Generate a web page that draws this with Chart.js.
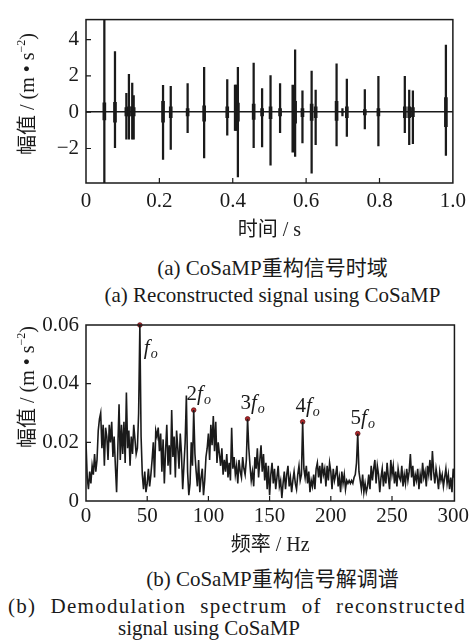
<!DOCTYPE html>
<html>
<head>
<meta charset="utf-8">
<script src="https://cdn.jsdelivr.net/npm/chart.js@4.4.0/dist/chart.umd.min.js"></script>
<style>
  html, body { margin: 0; padding: 0; background: #fff; }
  body {
    width: 472px; height: 640px; position: relative; overflow: hidden;
    font-family: 'Liberation Serif', 'Noto Sans CJK SC', serif; color: #1a1a1a;
  }
  .box { position: absolute; left: 0; width: 472px; }
  .cap { position: absolute; left: 0; width: 545px; text-align: center;
         font-size: 21px; line-height: 24px; white-space: nowrap; }
  .ytitle { position: absolute; left: 27px; transform: translate(-50%, -50%) rotate(-90deg);
            font-size: 20px; line-height: 24px; white-space: nowrap; }
  .ytitle sup { font-size: 12px; vertical-align: 9px; line-height: 0; }
</style>
</head>
<body>
<div class="box" style="top:0;height:244px"><canvas id="timeChart"></canvas></div>
<div class="ytitle" style="top:94px">幅值 / (m • s<sup>−2</sup>)</div>
<div class="cap" style="top:256px">(a) CoSaMP重构信号时域</div>
<div class="cap" style="top:283px">(a) Reconstructed signal using CoSaMP</div>
<div class="box" style="top:300px;height:263px"><canvas id="specChart"></canvas></div>
<div class="ytitle" style="top:387px">幅值 / (m • s<sup>−2</sup>)</div>
<div class="cap" style="top:567px">(b) CoSaMP重构信号解调谱</div>
<div class="cap" style="top:594px;left:8px;width:458px;text-align:justify;text-align-last:justify;letter-spacing:1.3px">(b) Demodulation spectrum of reconstructed</div>
<div class="cap" style="top:616px;left:118px;width:auto;text-align:left">signal using CoSaMP</div>

<script>
// ======================================
// Data - (a) time signal bursts
// ======================================
const burstTime = [0.050, 0.079, 0.110, 0.117, 0.126, 0.130, 0.210, 0.231, 0.277, 0.322,
                   0.385, 0.408, 0.414, 0.457, 0.480, 0.503, 0.529, 0.565, 0.570, 0.590,
                   0.615, 0.626, 0.683, 0.699, 0.711, 0.760, 0.797, 0.869, 0.881, 0.891, 0.981];
const burstMax  = [6.00, 3.34, 1.04, 2.09, 1.60, 0.92, 1.48, 1.43, 1.57, 2.47,
                   1.79, 1.50, 2.47, 2.70, 1.30, 2.02, 1.57, 1.48, 3.43, 1.17,
                   2.26, 1.22, 2.66, 0.20, 1.83, 1.25, 1.97, 1.97, 1.22, 1.17, 3.70];
const burstMin  = [-5.00, -1.95, -1.48, -1.48, -1.48, -1.48, -2.60, -2.05, -1.13, -2.52,
                   -1.27, -1.00, -3.57, -1.95, -1.91, -2.92, -1.13, -2.17, -2.43, -1.69,
                   -3.36, -1.79, -1.86, -0.20, -1.34, -0.92, -1.86, -1.13, -1.79, -1.74, -2.38];
// dense part of each burst, near zero
const coreMax   = [0.52, 0.55, 0.25, 0.30, 0.30, 0.25, 0.60, 0.30, 0.20, 0.35,
                   0.30, 1.50, 0.50, 0.45, 0.20, 0.30, 0.20, 1.50, 0.60, 0.20,
                   0.45, 0.30, 0.60, 0.00, 0.30, 0.15, 0.20, 0.30, 0.30, 0.25, 0.80];
const coreMin   = [-0.43, -0.55, -0.20, -0.20, -0.20, -0.20, -0.55, -0.30, -0.20, -0.50,
                   -0.30, -1.00, -0.50, -0.40, -0.20, -0.35, -0.20, -2.20, -0.60, -0.25,
                   -0.45, -0.30, -0.45, 0.00, -0.30, -0.15, -0.20, -0.30, -0.30, -0.25, -0.80];
const timeTicks = [0, 0.2, 0.4, 0.6, 0.8, 1.0];
const ampTicks  = [-2, 0, 2, 4];

// ======================================
// Data - (b) demodulation spectrum, 1 Hz bins from 0 Hz
// ======================================
const spectrumAmp = [
  0.020, 0.008, 0.004, 0.010, 0.006, 0.012, 0.009, 0.016, 0.010, 0.014,
  0.024, 0.028, 0.030, 0.018, 0.026, 0.012, 0.025, 0.022, 0.014, 0.026,
  0.020, 0.027, 0.015, 0.022, 0.012, 0.003, 0.018, 0.033, 0.014, 0.026,
  0.016, 0.027, 0.013, 0.037, 0.018, 0.024, 0.012, 0.022, 0.016, 0.026,
  0.021, 0.016, 0.018, 0.030, 0.060, 0.022, 0.009, 0.004, 0.010, 0.003,
  0.006, 0.011, 0.005, 0.009, 0.014, 0.020, 0.008, 0.024, 0.022, 0.025,
  0.017, 0.023, 0.010, 0.021, 0.006, 0.017, 0.026, 0.012, 0.019, 0.009,
  0.031, 0.015, 0.022, 0.008, 0.024, 0.018, 0.011, 0.023, 0.016, 0.004,
  0.012, 0.020, 0.036, 0.010, 0.002, 0.006, 0.020, 0.012, 0.031, 0.016,
  0.010, 0.005, 0.014, 0.003, 0.008, 0.011, 0.002, 0.007, 0.015, 0.018,
  0.023, 0.014, 0.026, 0.019, 0.029, 0.017, 0.027, 0.013, 0.020, 0.016,
  0.012, 0.018, 0.009, 0.014, 0.010, 0.016, 0.008, 0.013, 0.007, 0.025,
  0.011, 0.015, 0.009, 0.012, 0.006, 0.014, 0.010, 0.008, 0.015, 0.011,
  0.009, 0.014, 0.028, 0.018, 0.012, 0.007, 0.010, 0.005, 0.015, 0.011,
  0.018, 0.008, 0.014, 0.019, 0.010, 0.016, 0.007, 0.013, 0.004, 0.012,
  0.002, 0.009, 0.013, 0.006, 0.011, 0.004, 0.008, 0.012, 0.005, 0.007,
  0.001, 0.006, 0.010, 0.004, 0.009, 0.012, 0.005, 0.008, 0.003, 0.007,
  0.010, 0.006, 0.004, 0.009, 0.012, 0.007, 0.009, 0.027, 0.011, 0.008,
  0.012, 0.006, 0.010, 0.003, 0.007, 0.005, 0.009, 0.004, 0.011, 0.013,
  0.008, 0.012, 0.006, 0.013, 0.009, 0.011, 0.005, 0.012, 0.007, 0.013,
  0.010, 0.004, 0.011, 0.007, 0.009, 0.012, 0.005, 0.008, 0.003, 0.010,
  0.006, 0.009, 0.004, 0.007, 0.006, 0.007, 0.006, 0.007, 0.006, 0.008,
  0.009, 0.013, 0.023, 0.010, 0.007, 0.004, 0.009, 0.003, 0.006, 0.003,
  0.005, 0.009, 0.004, 0.012, 0.007, 0.011, 0.014, 0.006, 0.012, 0.009,
  0.003, 0.008, 0.011, 0.005, 0.010, 0.006, 0.013, 0.008, 0.004, 0.014,
  0.009, 0.012, 0.006, 0.010, 0.005, 0.011, 0.008, 0.007, 0.012, 0.005,
  0.009, 0.006, 0.011, 0.007, 0.010, 0.016, 0.008, 0.012, 0.005, 0.009,
  0.007, 0.011, 0.004, 0.009, 0.006, 0.013, 0.008, 0.010, 0.005, 0.012,
  0.009, 0.014, 0.007, 0.017, 0.010, 0.006, 0.011, 0.008, 0.004, 0.010,
  0.007, 0.009, 0.005, 0.008, 0.011, 0.006, 0.009, 0.004, 0.008, 0.003,
  0.011, 0.008
];
const harmonicBin   = [44, 88, 132, 177, 222];
const harmonicOrder = [1, 2, 3, 4, 5];
const freqTicks = [0, 50, 100, 150, 200, 250, 300];
const specTicks = [0, 0.02, 0.04, 0.06];

const SERIF = "'Liberation Serif', 'Noto Sans CJK SC', serif";
const INK = '#1a1a1a';

// ======================================
// Plugin: box frame + inward ticks
// ======================================
const frameTicks = {
    id: 'frameTicks',
    afterDatasetsDraw(chart) {
        const { ctx, chartArea: a, scales } = chart;
        ctx.save();
        ctx.strokeStyle = INK;
        ctx.lineWidth = 1.5;
        ctx.strokeRect(a.left, a.top, a.right - a.left, a.bottom - a.top);
        ctx.lineWidth = 1.2;
        ctx.beginPath();
        scales.x.ticks.forEach(t => {
            const px = scales.x.getPixelForValue(t.value);
            if (px <= a.left + 2 || px >= a.right - 2) return;
            ctx.moveTo(px, a.bottom);
            ctx.lineTo(px, a.bottom - 5);
        });
        scales.y.ticks.forEach(t => {
            const py = scales.y.getPixelForValue(t.value);
            if (py <= a.top + 2 || py >= a.bottom - 2) return;
            ctx.moveTo(a.left, py);
            ctx.lineTo(a.left + 5, py);
        });
        ctx.stroke();
        ctx.restore();
    }
};

// ======================================
// Plugin: harmonic labels (f_o, 2f_o ...)
// ======================================
const harmonicLabels = {
    id: 'harmonicLabels',
    afterDatasetsDraw(chart) {
        const ctx = chart.ctx;
        const meta = chart.getDatasetMeta(1);
        ctx.save();
        ctx.fillStyle = INK;
        ctx.textBaseline = 'alphabetic';
        meta.data.forEach((pt, i) => {
            const n = harmonicOrder[i];
            const lead = n > 1 ? String(n) : '';
            const big = "21px 'Liberation Serif', serif";
            const bigI = "italic 21px 'Liberation Serif', serif";
            const small = "italic 14px 'Liberation Serif', serif";
            ctx.font = big;  const w1 = ctx.measureText(lead).width;
            ctx.font = bigI; const w2 = ctx.measureText('f').width + 1;
            ctx.font = small; const w3 = ctx.measureText('o').width;
            let x, y;
            if (n === 1) { x = pt.x + 4; y = pt.y + 29; }
            else { x = pt.x + 5 - (w1 + w2 + w3) / 2; y = pt.y - 10; }
            ctx.font = big;  ctx.fillText(lead, x, y);
            ctx.font = bigI; ctx.fillText('f', x + w1, y);
            ctx.font = small; ctx.fillText('o', x + w1 + w2, y + 4);
        });
        ctx.restore();
    }
};

function fixedTicks(list) {
    return axis => { axis.ticks = list.map(v => ({ value: v })); };
}

function baseOptions() {
    return {
        responsive: true,
        maintainAspectRatio: false,
        animation: false,
        events: [],
        plugins: { legend: { display: false }, tooltip: { enabled: false } }
    };
}

// ======================================
// (a) time domain chart
// ======================================
function createTimeChart() {
    const ctx = document.getElementById('timeChart');
    const spans = burstTime.map((t, i) => ({ x: t, y: [burstMin[i], burstMax[i]] }));
    const cores = burstTime.map((t, i) => ({ x: t, y: [coreMin[i], coreMax[i]] }));
    const opts = baseOptions();
    opts.layout = { padding: { top: 11, right: 13, left: 0, bottom: 0 } };
    opts.scales = {
        x: {
            type: 'linear', min: 0, max: 1, offset: false,
            afterBuildTicks: fixedTicks(timeTicks),
            afterFit: s => { s.height = 61; },
            grid: { display: false, drawTicks: false },
            border: { display: false },
            ticks: { color: INK, padding: 6, maxRotation: 0, font: { family: SERIF, size: 21 },
                     callback: v => v === 0 ? '0' : v.toFixed(1) },
            title: { display: true, text: '时间 / s', color: INK, padding: { top: 0, bottom: 1 },
                     font: { family: SERIF, size: 20 } }
        },
        y: {
            min: -3.9, max: 5.1,
            afterBuildTicks: fixedTicks(ampTicks),
            afterFit: s => { s.width = 86; },
            grid: { drawTicks: false, lineWidth: 1.5,
                    color: c => (c.tick && c.tick.value === 0) ? INK : 'rgba(0,0,0,0)' },
            border: { display: false },
            ticks: { color: INK, padding: 7, font: { family: SERIF, size: 21 },
                     callback: v => v < 0 ? '\u2212' + Math.abs(v) : String(v) }
        }
    };
    new Chart(ctx, {
        type: 'bar',
        data: {
            datasets: [
                { data: spans, backgroundColor: INK, barThickness: 1.6, grouped: false, clip: 0 },
                { data: cores, backgroundColor: INK, barThickness: 3, grouped: false, clip: 0 }
            ]
        },
        options: opts,
        plugins: [frameTicks]
    });
}

// ======================================
// (b) demodulation spectrum chart
// ======================================
function createSpectrumChart() {
    const ctx = document.getElementById('specChart');
    const line = spectrumAmp.map((v, i) => ({ x: i, y: v }));
    const peaks = harmonicBin.map(b => ({ x: b, y: spectrumAmp[b] }));
    const opts = baseOptions();
    opts.layout = { padding: { top: 25, right: 12, left: 0, bottom: 0 } };
    opts.scales = {
        x: {
            type: 'linear', min: 0, max: 301,
            afterBuildTicks: fixedTicks(freqTicks),
            afterFit: s => { s.height = 62; },
            grid: { display: false, drawTicks: false },
            border: { display: false },
            ticks: { color: INK, padding: 3, maxRotation: 0, font: { family: SERIF, size: 21 } },
            title: { display: true, text: '频率 / Hz', color: INK, padding: { top: 0, bottom: 5 },
                     font: { family: SERIF, size: 20 } }
        },
        y: {
            min: 0, max: 0.06,
            afterBuildTicks: fixedTicks(specTicks),
            afterFit: s => { s.width = 86; },
            grid: { display: false, drawTicks: false },
            border: { display: false },
            ticks: { color: INK, padding: 7, font: { family: SERIF, size: 21 },
                     callback: v => v === 0 ? '0' : v.toFixed(2) }
        }
    };
    new Chart(ctx, {
        type: 'line',
        data: {
            datasets: [
                { data: line, borderColor: INK, borderWidth: 1.6, pointRadius: 0, tension: 0, clip: 0 },
                { type: 'scatter', data: peaks, pointRadius: 2.3, backgroundColor: '#b8262a',
                  borderColor: '#5c1214', borderWidth: 0.8, clip: false }
            ]
        },
        options: opts,
        plugins: [frameTicks, harmonicLabels]
    });
}

document.addEventListener('DOMContentLoaded', function() {
    createTimeChart();
    createSpectrumChart();
});
</script>
</body>
</html>
